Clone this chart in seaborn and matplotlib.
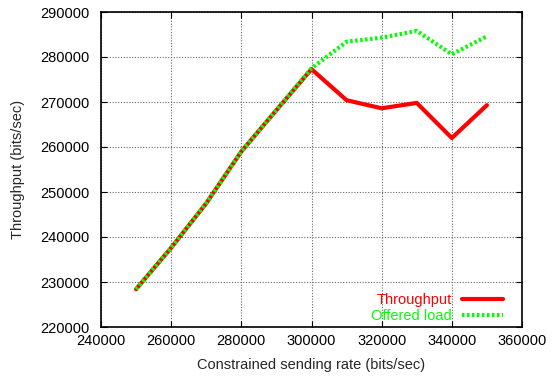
import matplotlib
matplotlib.use("Agg")
import matplotlib.pyplot as plt
import seaborn as sns
import pandas as pd

# Sending rates (bits/sec) and measured series
rates = [250000, 260000, 270000, 280000, 290000, 300000,
         310000, 320000, 330000, 340000, 350000]
throughput = [228400, 237600, 247500, 259000, 268200, 277300,
              270400, 268600, 269800, 262000, 269300]
offered_load = [228400, 237600, 247500, 259000, 268200, 277500,
                283400, 284300, 285800, 280600, 284600]
series_names = ["Throughput", "Offered load"]
x_ticks = [240000, 260000, 280000, 300000, 320000, 340000, 360000]
y_ticks = [220000, 230000, 240000, 250000, 260000, 270000, 280000, 290000]

df = pd.DataFrame({
    "rate": rates * 2,
    "value": throughput + offered_load,
    "series": [series_names[0]] * len(rates) + [series_names[1]] * len(rates),
})

sns.set_theme(style="white")
plt.rcParams["font.family"] = ["Liberation Sans", "DejaVu Sans"]

fig = plt.figure(figsize=(5.52, 3.76), dpi=100)
ax = fig.add_axes([101 / 552, 1 - 327 / 376, (522 - 101) / 552, (327 - 12) / 376])

sns.lineplot(data=df, x="rate", y="value", hue="series", style="series",
             palette={"Throughput": "#ff0000", "Offered load": "#00ff00"},
             dashes={"Throughput": "", "Offered load": (0.6, 0.6)},
             linewidth=3.0, ax=ax, legend=True)

ax.set_xlim(240000, 360000)
ax.set_ylim(220000, 290000)
ax.set_xticks(x_ticks)
ax.set_yticks(y_ticks)
ax.set_xticklabels([str(v) for v in x_ticks], fontsize=10.5)
ax.set_yticklabels([str(v) for v in y_ticks], fontsize=10.5)
ax.set_xlabel("Constrained sending rate (bits/sec)", fontsize=10.5, labelpad=7)
ax.set_ylabel("Throughput (bits/sec)", fontsize=10.5, labelpad=11)

ax.grid(True, color="#666666", linestyle=(0, (1, 1.5)), linewidth=0.8)
ax.set_axisbelow(True)
ax.tick_params(axis="y", pad=8)
ax.tick_params(axis="x", pad=5)
ax.tick_params(direction="in", length=4, width=0.8, top=True, right=True,
               bottom=True, left=True, colors="black")
for s in ax.spines.values():
    s.set_color("black")
    s.set_linewidth(1.2)

leg = ax.legend(loc="lower right", bbox_to_anchor=(0.955, 0.012),
                frameon=False, markerfirst=False,
                fontsize=10.5, handlelength=2.8, labelspacing=0.12,
                borderpad=0, borderaxespad=0, handletextpad=0.7,
                labelcolor="linecolor")
for t in leg.get_texts():
    t.set_ha("right")

fig.savefig("out.png", dpi=100)
